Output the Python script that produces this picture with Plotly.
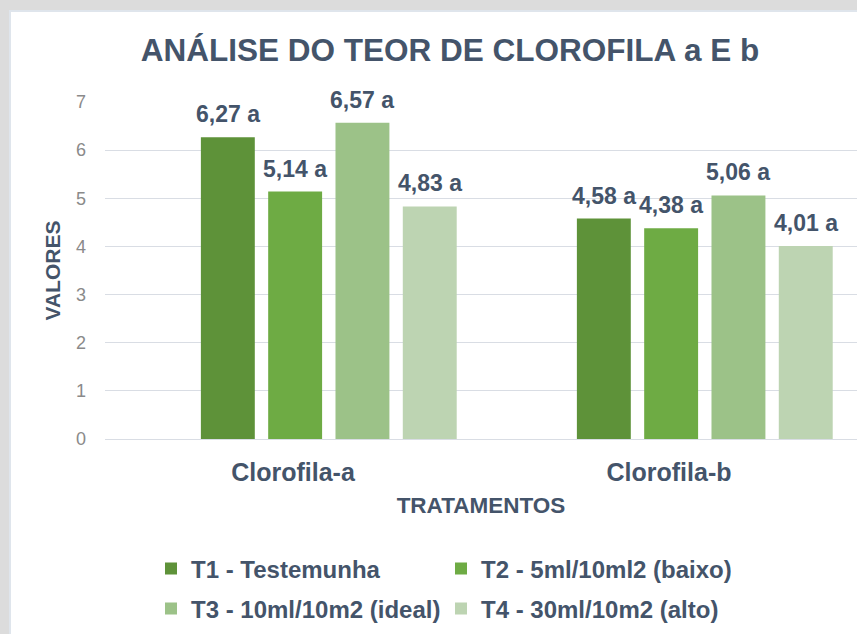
import plotly.graph_objects as go

categories = ["Clorofila-a", "Clorofila-b"]
series_names = ["T1 - Testemunha", "T2 - 5ml/10ml2 (baixo)", "T3 - 10ml/10m2 (ideal)", "T4 - 30ml/10m2 (alto)"]
t1_values = [6.27, 4.58]
t2_values = [5.14, 4.38]
t3_values = [6.57, 5.06]
t4_values = [4.83, 4.01]
t1_labels = ["6,27 a", "4,58 a"]
t2_labels = ["5,14 a", "4,38 a"]
t3_labels = ["6,57 a", "5,06 a"]
t4_labels = ["4,83 a", "4,01 a"]
y_ticks = [0, 1, 2, 3, 4, 5, 6, 7]

values = [t1_values, t2_values, t3_values, t4_values]
labels = [t1_labels, t2_labels, t3_labels, t4_labels]
colors = ["#5e9239", "#6eab44", "#9cc288", "#bdd4b2"]
legend_ids = ["legend", "legend", "legend2", "legend2"]

TEXT = "#44546a"
FONT = "Liberation Sans, Arial, sans-serif"
BAR_W = 0.1434
PITCH = 0.179
LEFT = -0.245

fig = go.Figure()
annotations = []
for k, (name, vals, labs, col) in enumerate(zip(series_names, values, labels, colors)):
    off = LEFT + k * PITCH
    fig.add_trace(go.Bar(
        x=categories, y=vals, name=name,
        marker=dict(color=col, line=dict(width=0)),
        width=BAR_W, offset=off,
        hoverinfo="skip", legend=legend_ids[k],
    ))
    for i, (v, t) in enumerate(zip(vals, labs)):
        annotations.append(dict(
            x=i + off + BAR_W / 2, y=v, xref="x", yref="y",
            text=t, showarrow=False, yanchor="bottom", yshift=8,
            font=dict(family=FONT, size=23, color=TEXT, weight="bold"),
        ))

legend_common = dict(
    orientation="h", x=(151 - 105) / 752, xanchor="left", yanchor="top",
    entrywidth=245, entrywidthmode="pixels",
    font=dict(family=FONT, size=24, color=TEXT, weight="bold"),
    bgcolor="rgba(0,0,0,0)", traceorder="normal",
)

fig.update_layout(
    width=857, height=634,
    margin=dict(l=105, r=0, t=102, b=195),
    paper_bgcolor="#dcdcdc",
    plot_bgcolor="rgba(0,0,0,0)",
    barmode="overlay",
    font=dict(family=FONT, color=TEXT),
    title=dict(
        text="<b>ANÁLISE DO TEOR DE CLOROFILA a E b</b>",
        x=450 / 857, xref="container", xanchor="center",
        y=1 - 50 / 634, yref="container", yanchor="middle",
        font=dict(family=FONT, size=31.5, color=TEXT),
    ),
    xaxis=dict(
        type="category", range=[-0.5, 1.5],
        showgrid=False, showline=True, linecolor="#d9dde4", linewidth=1,
        ticks="", ticklabelstandoff=11,
        tickfont=dict(size=25, color=TEXT, weight="bold"),
        title=dict(text="<b>TRATAMENTOS</b>", font=dict(size=22.5, color=TEXT), standoff=12),
        automargin=False, fixedrange=True,
    ),
    yaxis=dict(
        range=[0, 7], tickvals=y_ticks,
        showgrid=True, gridcolor="#d9dde4", gridwidth=1,
        zeroline=False, showline=False, ticks="",
        ticklabelstandoff=18,
        tickfont=dict(size=18, color="#8a8a8a"),
        title=dict(text="<b>VALORES</b>", font=dict(size=21, color=TEXT), standoff=9),
        automargin=False, fixedrange=True,
    ),
    legend=dict(legend_common, y=-(546.5 - 439) / 337),
    legend2=dict(legend_common, y=-(586.5 - 439) / 337),
    annotations=annotations,
    shapes=[dict(
        type="rect", xref="paper", yref="paper", layer="below",
        x0=(10 - 105) / 752, x1=1.2, y0=-1, y1=1 + (102 - 11) / 337,
        fillcolor="white", line=dict(color="#dfe5ec", width=2),
    )],
    showlegend=True,
)

fig.write_html(
    "out.html",
    config={"displayModeBar": False},
    post_script="document.body.style.margin='0';document.body.style.background='#dcdcdc';",
)
